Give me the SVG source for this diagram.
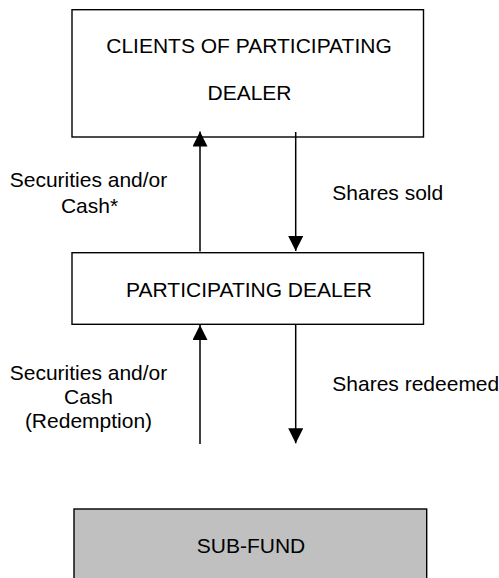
<svg xmlns="http://www.w3.org/2000/svg" width="499" height="578" viewBox="0 0 499 578">
  <defs>
    <marker id="arrow" markerUnits="userSpaceOnUse" markerWidth="15" markerHeight="15" viewBox="0 0 15 15" refX="15" refY="7.5" orient="auto">
      <path d="M0,0 L15,7.5 L0,15 Z" fill="#000"/>
    </marker>
  </defs>
  <style>
    .box { fill: #ffffff; stroke: #000; stroke-width: 1.4; }
    .fund { fill: #c0c0c0; stroke: #000; stroke-width: 1.4; }
    .t { font-family: "Liberation Sans", Arial, sans-serif; font-size: 21px; fill: #000; }
    .c { text-anchor: middle; }
    .conn { stroke: #000; stroke-width: 1.5; fill: none; marker-end: url(#arrow); }
  </style>
  <rect width="499" height="578" fill="#ffffff"/>

  <g id="clients">
    <rect class="box" x="72" y="9.7" width="351.5" height="127.3"/>
    <text class="t c" x="249" y="52.7">CLIENTS OF PARTICIPATING</text>
    <text class="t c" x="249.5" y="100">DEALER</text>
  </g>

  <g id="dealer">
    <rect class="box" x="72" y="252.7" width="351.5" height="71.6"/>
    <text class="t c" x="249" y="296.5">PARTICIPATING DEALER</text>
  </g>

  <g id="subfund">
    <rect class="fund" x="74" y="509" width="352.7" height="90"/>
    <text class="t c" x="251" y="553.3">SUB-FUND</text>
  </g>

  <g id="connectors">
    <line class="conn" x1="200" y1="251.5" x2="200" y2="131.5"/>
    <line class="conn" x1="295.7" y1="132" x2="295.7" y2="251"/>
    <line class="conn" x1="200" y1="444" x2="200" y2="325"/>
    <line class="conn" x1="295.7" y1="324.3" x2="295.7" y2="443.3"/>
  </g>

  <g id="labels">
    <text class="t c" x="88.5" y="187.3">Securities and/or</text>
    <text class="t c" x="89.5" y="212.7">Cash*</text>
    <text class="t" x="332.3" y="200">Shares sold</text>
    <text class="t c" x="88.5" y="380">Securities and/or</text>
    <text class="t c" x="88.5" y="404.3">Cash</text>
    <text class="t c" x="88.5" y="427.5">(Redemption)</text>
    <text class="t" x="332.3" y="390.7">Shares redeemed</text>
  </g>
</svg>
